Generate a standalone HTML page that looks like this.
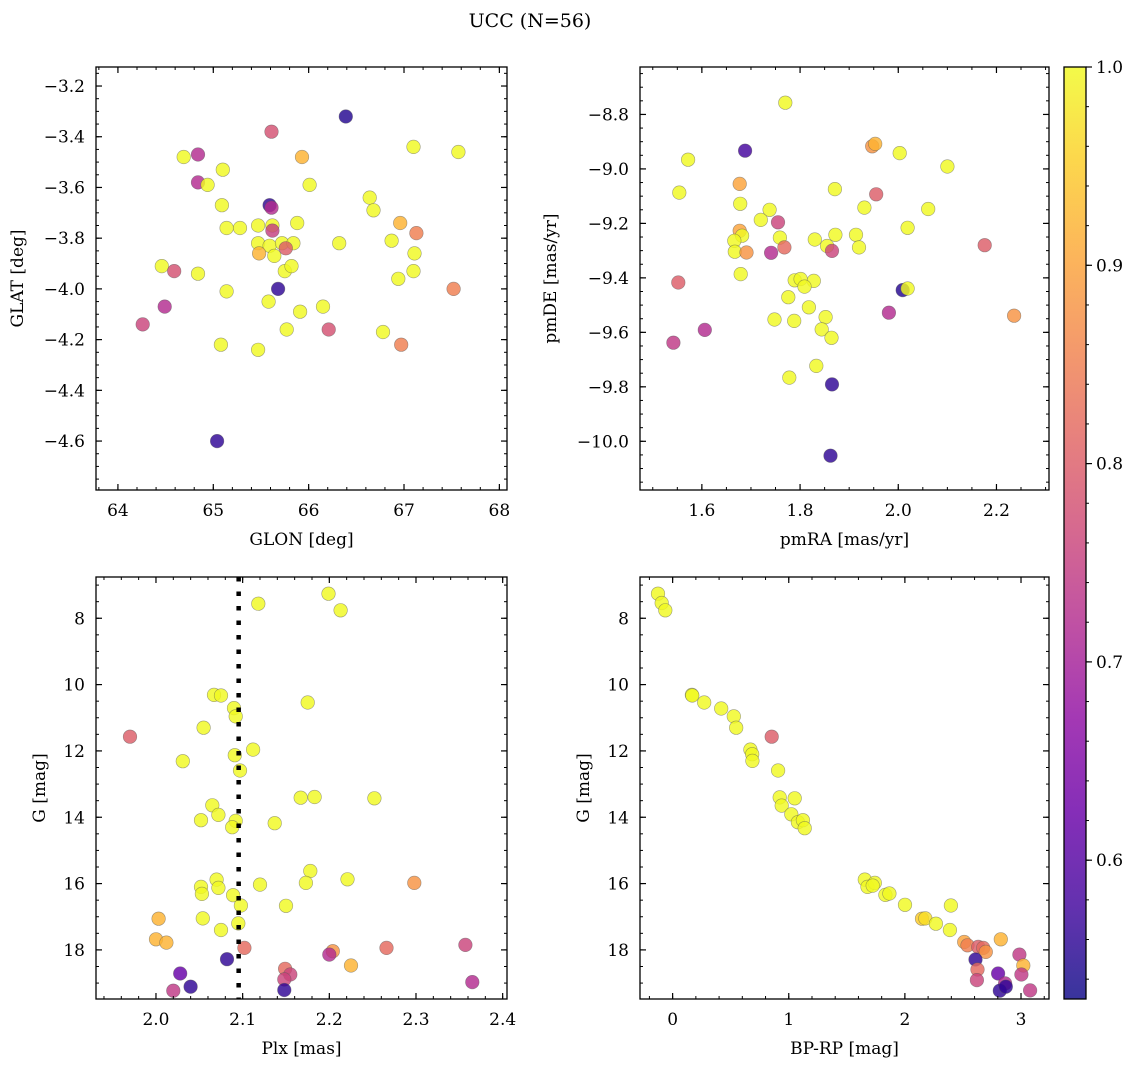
<!DOCTYPE html>
<html><head><meta charset="utf-8">
<style>
html,body{margin:0;padding:0;background:#fff;}
svg text{font-family:"DejaVu Serif","Liberation Serif",serif;fill:#000;}
</style></head>
<body>
<svg id="fig" width="1136" height="1067" viewBox="0 0 1136 1067" xmlns="http://www.w3.org/2000/svg">
<text x="530" y="27" font-size="19" text-anchor="middle">UCC (N=56)</text>
</svg>
<script>
// Panel 1: GLON / GLAT
const glon = [66.39,65.61,64.69,64.84,67.10,67.57,65.93,65.10,64.84,64.94,66.01,65.09,65.59,65.61,66.64,66.68,65.14,65.28,65.47,65.62,65.88,66.96,67.13,65.62,65.47,65.59,65.72,65.84,65.76,66.32,66.87,65.48,65.64,67.11,64.46,64.59,64.84,65.75,65.82,67.10,66.94,65.68,65.14,65.58,64.49,67.52,66.15,65.91,64.26,65.77,66.21,66.78,65.08,65.47,66.97,65.04];
const glat = [-3.32,-3.38,-3.48,-3.47,-3.44,-3.46,-3.48,-3.53,-3.58,-3.59,-3.59,-3.67,-3.67,-3.68,-3.64,-3.69,-3.76,-3.76,-3.75,-3.75,-3.74,-3.74,-3.78,-3.77,-3.82,-3.83,-3.82,-3.82,-3.84,-3.82,-3.81,-3.86,-3.87,-3.86,-3.91,-3.93,-3.94,-3.93,-3.91,-3.93,-3.96,-4.00,-4.01,-4.05,-4.07,-4.00,-4.07,-4.09,-4.14,-4.16,-4.16,-4.17,-4.22,-4.24,-4.22,-4.60];
const prob1 = [0.55,0.78,1,0.72,1,1,0.92,1,0.72,1,1,1,0.56,0.72,1,1,1,1,1,1,1,0.92,0.85,0.75,1,1,1,1,0.8,1,1,0.92,1,1,1,0.78,1,1,1,1,1,0.56,1,1,0.72,0.85,1,1,0.76,1,0.78,1,1,1,0.85,0.56];
// Panel 2: pmRA / pmDE
const pmra = [1.770,1.688,1.572,1.947,1.953,2.003,2.100,1.554,1.677,1.871,1.955,1.678,1.931,2.061,1.738,1.720,1.755,2.019,1.677,1.682,1.666,1.759,1.830,1.872,1.914,2.176,1.768,1.855,1.865,1.920,1.667,1.691,1.741,1.679,1.552,1.789,1.801,1.828,1.809,2.009,2.019,1.776,1.818,1.981,2.236,1.852,1.748,1.788,1.844,1.606,1.542,1.864,1.833,1.778,1.865,1.862];
const pmde = [-8.757,-8.933,-8.966,-8.917,-8.908,-8.942,-8.991,-9.087,-9.055,-9.074,-9.093,-9.128,-9.142,-9.147,-9.150,-9.187,-9.196,-9.216,-9.227,-9.245,-9.264,-9.252,-9.259,-9.242,-9.242,-9.280,-9.288,-9.283,-9.301,-9.288,-9.304,-9.307,-9.308,-9.386,-9.417,-9.409,-9.404,-9.411,-9.432,-9.445,-9.439,-9.471,-9.508,-9.528,-9.539,-9.544,-9.553,-9.558,-9.589,-9.591,-9.638,-9.620,-9.723,-9.766,-9.791,-10.053];
const prob2 = [1,0.58,1,0.88,0.92,1,1,1,0.9,1,0.8,1,1,1,1,1,0.76,1,0.9,1,1,1,1,1,1,0.8,0.82,1,0.76,1,1,0.88,0.72,1,0.8,1,1,1,1,0.55,1,1,1,0.72,0.88,1,1,1,1,0.72,0.74,1,1,1,0.56,0.56];
// Panel 3: Plx / G
const plx = [2.199,2.118,2.213,2.067,2.075,2.175,2.090,2.092,2.055,1.970,2.112,2.031,2.091,2.097,2.167,2.183,2.252,2.065,2.072,2.052,2.092,2.137,2.088,2.178,2.221,2.070,2.120,2.173,2.052,2.072,2.298,2.053,2.089,2.098,2.150,2.003,2.054,2.095,2.075,2.000,2.012,2.102,2.266,2.357,2.204,2.200,2.082,2.225,2.149,2.155,2.148,2.028,2.040,2.365,2.020,2.148];
const gmag3 = [7.26,7.56,7.76,10.31,10.33,10.54,10.71,10.96,11.30,11.57,11.96,12.31,12.13,12.59,13.41,13.39,13.43,13.64,13.93,14.09,14.11,14.18,14.30,15.62,15.87,15.88,16.03,15.98,16.10,16.13,15.98,16.31,16.35,16.66,16.67,17.06,17.05,17.20,17.40,17.68,17.78,17.94,17.94,17.85,18.04,18.14,18.28,18.47,18.57,18.74,18.89,18.71,19.11,18.97,19.23,19.21];
const prob3 = [1,1,1,1,1,1,1,1,1,0.8,1,1,1,1,1,1,1,1,1,1,1,1,1,1,1,1,1,1,1,1,0.88,1,1,1,1,0.92,1,1,1,0.92,0.92,0.82,0.82,0.76,0.88,0.72,0.56,0.92,0.82,0.76,0.76,0.62,0.56,0.72,0.74,0.56];
const plxMedian = [2.0954];
// Panel 4: BP-RP / G
const bprp = [-0.126,-0.094,-0.063,0.166,0.169,0.272,0.418,0.527,0.547,0.853,0.670,0.685,0.687,0.908,0.922,1.051,0.939,1.022,1.079,1.122,1.137,1.655,1.678,1.741,1.723,1.832,1.867,2.001,2.396,2.147,2.176,2.267,2.388,2.511,2.539,2.631,2.674,2.697,2.826,2.608,2.625,2.620,2.986,3.020,3.003,2.803,2.863,2.817,2.869,3.078];
const gmag4 = [7.26,7.54,7.76,10.31,10.33,10.54,10.72,10.96,11.30,11.57,11.96,12.10,12.30,12.59,13.40,13.43,13.65,13.91,14.15,14.09,14.33,15.88,16.10,15.98,16.06,16.34,16.30,16.64,16.66,17.06,17.05,17.21,17.40,17.76,17.86,17.91,17.94,18.06,17.68,18.29,18.59,18.91,18.14,18.47,18.74,18.71,19.01,19.23,19.11,19.22];
const prob4 = [1,1,1,1,1,1,1,1,1,0.8,1,1,1,1,1,1,1,1,1,1,1,1,1,1,1,1,1,1,1,0.95,0.97,1,1,0.9,0.85,0.8,0.82,0.88,0.92,0.56,0.82,0.76,0.74,0.92,0.74,0.62,0.72,0.56,0.56,0.74];
// Tick labels
const ticks1x = [64,65,66,67,68], ticks1y = [-3.2,-3.4,-3.6,-3.8,-4.0,-4.2,-4.4,-4.6];
const ticks2x = [1.6,1.8,2.0,2.2], ticks2y = [-8.8,-9.0,-9.2,-9.4,-9.6,-9.8,-10.0];
const ticks3x = [2.0,2.1,2.2,2.3,2.4], ticksGy = [8,10,12,14,16,18];
const ticks4x = [0,1,2,3];
const cbarTicks = [0.6,0.7,0.8,0.9,1.0];
const CMIN = 0.53, CMAX = 1.0;

const NS = "http://www.w3.org/2000/svg";
const fig = document.getElementById('fig');
function mk(tag, attrs, parent){ const e=document.createElementNS(NS,tag); for(const k in attrs) e.setAttribute(k,attrs[k]); (parent||fig).appendChild(e); return e; }

const plasma = ["#0d0887","#41049d","#6a00a8","#8f0da4","#b12a90","#cc4778","#e16462","#f2844b","#fca636","#fcce25","#f0f921"];
function hex(c){return [parseInt(c.slice(1,3),16),parseInt(c.slice(3,5),16),parseInt(c.slice(5,7),16)];}
function cmap(t){ t=Math.max(0,Math.min(1,t)); const f=t*10, i=Math.min(9,Math.floor(f)), r=f-i; const a=hex(plasma[i]), b=hex(plasma[i+1]); return 'rgb('+a.map((v,k)=>Math.round(v+(b[k]-v)*r)).join(',')+')'; }
function colorOf(p){ return cmap((p-CMIN)/(CMAX-CMIN)); }

function fmt(v,d){ return (v<0?'\u2212':'')+Math.abs(v).toFixed(d); }

function panel(o){
  const g = mk('g',{});
  
  
  const X = v => o.x0 + (v-o.xmin)/(o.xmax-o.xmin)*(o.x1-o.x0);
  const Y = v => o.y0 + (o.ymax-v)/(o.ymax-o.ymin)*(o.y1-o.y0);
  const pg = mk('g',{},g);
  
  
  for(let i=0;i<o.xs.length;i++){
    const c = mk('circle',{cx:X(o.xs[i]).toFixed(1),cy:Y(o.ys[i]).toFixed(1),r:6.8,fill:colorOf(o.cs[i]),'fill-opacity':0.82,stroke:'#555','stroke-opacity':0.55,'stroke-width':0.6},pg);
    
    
  }
  if(o.vline){ for(const v of o.vline){ const l=mk('line',{x1:X(v),x2:X(v),y1:o.y0,y2:o.y1,stroke:'#000','stroke-width':4.5,'stroke-dasharray':'4.5 10'},g);
    
     } }
  const fr = mk('rect',{x:o.x0,y:o.y0,width:o.x1-o.x0,height:o.y1-o.y0,fill:'none',stroke:'#000','stroke-width':1.3},g);
  
  
  const lo=(a,b)=>Math.min(a,b), hi=(a,b)=>Math.max(a,b);
  for(let v=Math.ceil(lo(o.xmin,o.xmax)/o.xminor-1e-6)*o.xminor; v<=hi(o.xmin,o.xmax)+1e-9; v+=o.xminor){
    const x=X(v); mk('line',{x1:x,x2:x,y1:o.y1,y2:o.y1-3,stroke:'#000','stroke-width':1},g); mk('line',{x1:x,x2:x,y1:o.y0,y2:o.y0+3,stroke:'#000','stroke-width':1},g);
  }
  for(let v=Math.ceil(lo(o.ymin,o.ymax)/o.yminor-1e-6)*o.yminor; v<=hi(o.ymin,o.ymax)+1e-9; v+=o.yminor){
    const y=Y(v); mk('line',{x1:o.x0,x2:o.x0+3,y1:y,y2:y,stroke:'#000','stroke-width':1},g); mk('line',{x1:o.x1,x2:o.x1-3,y1:y,y2:y,stroke:'#000','stroke-width':1},g);
  }
  for(const v of o.xt){ const x=X(v);
    mk('line',{x1:x,x2:x,y1:o.y1,y2:o.y1-6,stroke:'#000','stroke-width':1.2},g); mk('line',{x1:x,x2:x,y1:o.y0,y2:o.y0+6,stroke:'#000','stroke-width':1.2},g);
    const t=mk('text',{x:x,y:o.y1+26,'font-size':17,'text-anchor':'middle'},g); t.textContent=fmt(v,o.xd);
    
    
  }
  for(const v of o.yt){ const y=Y(v);
    mk('line',{x1:o.x0,x2:o.x0+6,y1:y,y2:y,stroke:'#000','stroke-width':1.2},g); mk('line',{x1:o.x1,x2:o.x1-6,y1:y,y2:y,stroke:'#000','stroke-width':1.2},g);
    const t=mk('text',{x:o.x0-11,y:y+6,'font-size':17,'text-anchor':'end'},g); t.textContent=fmt(v,o.yd);
    
    
  }
  const xl=mk('text',{x:(o.x0+o.x1)/2,y:o.y1+55,'font-size':17,'text-anchor':'middle'},g); xl.textContent=o.xlabel;
  
  
  const yl=mk('text',{x:0,y:0,'font-size':17,'text-anchor':'middle',transform:'translate('+o.ylx+','+((o.y0+o.y1)/2)+') rotate(-90)'},g); yl.textContent=o.ylabel;
  
  
}

panel({name:'glon-glat-panel',x0:96,x1:507,y0:67,y1:490,xmin:63.77,xmax:68.08,ymin:-4.793,ymax:-3.125,xs:glon,ys:glat,cs:prob1,xt:ticks1x,yt:ticks1y,xd:0,yd:1,xminor:0.2,yminor:0.05,xlabel:'GLON [deg]',ylabel:'GLAT [deg]',ylx:23});
panel({name:'pm-panel',x0:640,x1:1049,y0:67,y1:490,xmin:1.474,xmax:2.307,ymin:-10.1788,ymax:-8.6258,xs:pmra,ys:pmde,cs:prob2,xt:ticks2x,yt:ticks2y,xd:1,yd:1,xminor:0.05,yminor:0.05,xlabel:'pmRA [mas/yr]',ylabel:'pmDE [mas/yr]',ylx:556});
panel({name:'plx-g-panel',x0:96,x1:507,y0:577,y1:999,xmin:1.9308,xmax:2.405,ymin:19.48,ymax:6.756,xs:plx,ys:gmag3,cs:prob3,xt:ticks3x,yt:ticksGy,xd:1,yd:0,xminor:0.02,yminor:0.5,xlabel:'Plx [mas]',ylabel:'G [mag]',ylx:45,vline:plxMedian});
panel({name:'color-g-panel',x0:640,x1:1049,y0:577,y1:999,xmin:-0.281,xmax:3.241,ymin:19.48,ymax:6.756,xs:bprp,ys:gmag4,cs:prob4,xt:ticks4x,yt:ticksGy,xd:0,yd:0,xminor:0.2,yminor:0.5,xlabel:'BP-RP [mag]',ylabel:'G [mag]',ylx:589});

(function(){
  const x0=1064,x1=1086,y0=67,y1=999;
  const g=mk('g',{});
  
  
  const defs=mk('defs',{},g);
  const lg=mk('linearGradient',{id:'cb',x1:0,y1:1,x2:0,y2:0},defs);
  plasma.forEach((c,i)=>mk('stop',{offset:(i/10),'stop-color':c,'stop-opacity':0.82},lg));
  mk('rect',{x:x0,y:y0,width:x1-x0,height:y1-y0,fill:'url(#cb)'},g);
  mk('rect',{x:x0,y:y0,width:x1-x0,height:y1-y0,fill:'none',stroke:'#000','stroke-width':1.3},g);
  const Y=v=>y1-(v-CMIN)/(CMAX-CMIN)*(y1-y0);
  for(let v=0.54; v<=1.0001; v+=0.02){ const y=Y(v); mk('line',{x1:x1,x2:x1+3,y1:y,y2:y,stroke:'#000','stroke-width':1},g); }
  for(const v of cbarTicks){ const y=Y(v);
    mk('line',{x1:x1,x2:x1+6,y1:y,y2:y,stroke:'#000','stroke-width':1.2},g);
    const t=mk('text',{x:x1+10,y:y+6,'font-size':17},g); t.textContent=v.toFixed(1);
    
    
  }
})();
</script>
</body></html>
